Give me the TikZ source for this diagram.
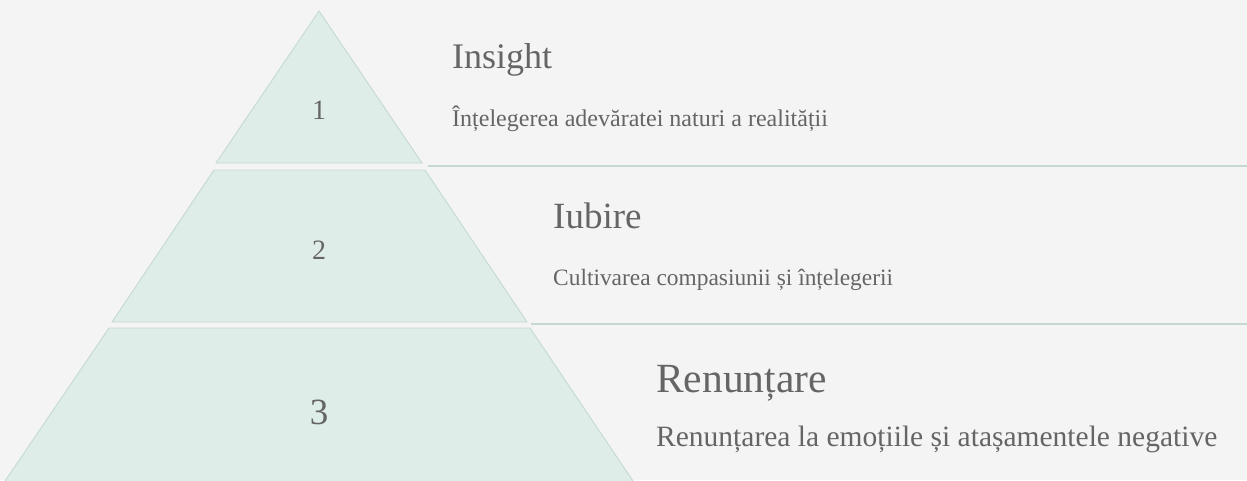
\documentclass[tikz,border=0pt]{standalone}
\usepackage{fontspec}
\setmainfont{Liberation Serif}
\usepackage{xcolor}
\definecolor{colorBack}{HTML}{F4F4F4}
\definecolor{colorSlice}{HTML}{DEEDE7}
\definecolor{colorEdge}{HTML}{C5D9D2}
\definecolor{colorText}{HTML}{656565}
\usetikzlibrary{positioning}
\tikzset{
  slice/.style={fill=colorSlice, draw=colorEdge, line width=0.9pt},
  num/.style={text=colorText, inner sep=0pt, font=\fontsize{28}{30}\selectfont},
  head/.style={text=colorText, inner sep=0pt, anchor=base west, font=\fontsize{36}{40}\selectfont},
  desc/.style={text=colorText, inner sep=0pt, font=\fontsize{24}{28}\selectfont},
  divider/.style={draw=colorEdge, line width=1.4pt},
}

\begin{document}
\begin{tikzpicture}[x=1pt, y=-1pt]
\clip (0,0) rectangle (1247,480);
\fill[colorBack] (0,0) rectangle (1247,480);
\coordinate (e) at (1247,0);
% pyramid slices
\path[slice] (319,11) -- (422,163) -- (216,163) -- cycle;
\path[slice] (214,170) -- (425,170) -- (527,322) -- (112,322) -- cycle;
\path[slice] (109,328) -- (530,328) -- (635,484) -- (3,484) -- cycle;
\node[num] (n1) at (319,110) {1};
\node[num] (n2) at (319,250) {2};
\node[num, font=\fontsize{37}{40}\selectfont] (n3) at (319,412) {3};
% dividers
\coordinate (s1) at (428,166);
\coordinate (s2) at (531,324);
\draw[divider] (s1) -- (s1 -| e);
\draw[divider] (s2) -- (s2 -| e);
% labels
\node[head] (t1) at (452,68) {Insight};
\node[desc, below=58pt of t1.base west, anchor=base west] (d1) {Înțelegerea adevăratei naturi a realității};
\node[head, font=\fontsize{37}{40}\selectfont] (t2) at (553,228) {Iubire};
\node[desc, below=57pt of t2.base west, anchor=base west, font=\fontsize{23.4}{28}\selectfont] (d2) {Cultivarea compasiunii și înțelegerii};
\node[head, font=\fontsize{41.5}{46}\selectfont] (t3) at (656,392) {Renunțare};
\node[desc, below=54pt of t3.base west, anchor=base west, font=\fontsize{29.5}{34}\selectfont] (d3) {Renunțarea la emoțiile și atașamentele negative};
\end{tikzpicture}
\end{document}
